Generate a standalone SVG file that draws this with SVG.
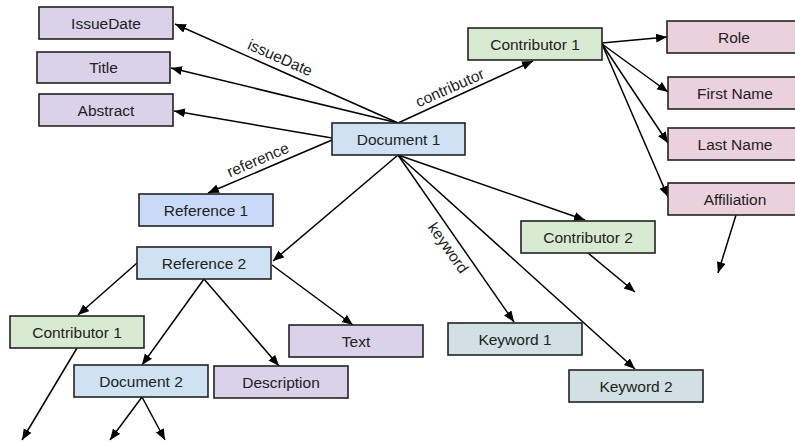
<svg xmlns="http://www.w3.org/2000/svg" width="795" height="442" viewBox="0 0 795 442">
<style>
.n rect{stroke:#222;stroke-width:1.6}
.n text,.lbl{font-family:"Liberation Sans",Arial,sans-serif;font-size:15.5px;fill:#222;text-anchor:middle}
.pu{fill:#d9d2e9}.bl{fill:#cfe2f3}.b2{fill:#c9daf8}.gr{fill:#d9ead3}.pk{fill:#ead1dc}.kw{fill:#d0e0e3}
.e line{stroke:#000;stroke-width:1.5;marker-end:url(#ah)}
</style>
<defs>
<marker id="ah" markerUnits="userSpaceOnUse" markerWidth="12" markerHeight="10" refX="11" refY="4.5" orient="auto">
<path d="M0,0 L11,4.5 L0,9 Z" fill="#000"/>
</marker>
</defs>
<rect width="795" height="442" fill="#fff"/>
<g id="connectors" class="e">
<line x1="398" y1="123" x2="175" y2="24"/>
<line x1="398" y1="123" x2="171" y2="68"/>
<line x1="332" y1="138" x2="174" y2="111"/>
<line x1="332" y1="140" x2="208" y2="193"/>
<line x1="398" y1="123" x2="533" y2="61"/>
<line x1="398" y1="155" x2="273" y2="261"/>
<line x1="398" y1="155" x2="514" y2="322"/>
<line x1="398" y1="155" x2="635" y2="369"/>
<line x1="398" y1="155" x2="585" y2="220"/>
<line x1="602" y1="43" x2="667" y2="37"/>
<line x1="602" y1="44" x2="668" y2="92"/>
<line x1="602" y1="44" x2="668" y2="143"/>
<line x1="602" y1="44" x2="668" y2="197"/>
<line x1="736" y1="215" x2="718" y2="273"/>
<line x1="588" y1="253" x2="635" y2="292"/>
<line x1="137" y1="263" x2="78" y2="315"/>
<line x1="204" y1="279" x2="142" y2="365"/>
<line x1="204" y1="279" x2="279" y2="366"/>
<line x1="272" y1="265" x2="353" y2="325"/>
<line x1="77" y1="348" x2="22" y2="440"/>
<line x1="142" y1="397" x2="110" y2="440"/>
<line x1="142" y1="397" x2="165" y2="440"/>
<text class="lbl" x="280" y="63" transform="rotate(24 280 58)">issueDate</text>
<text class="lbl" x="450" y="93" transform="rotate(-24 450 88)">contributor</text>
<text class="lbl" x="258" y="165" transform="rotate(-23 258 160)">reference</text>
<text class="lbl" x="448" y="253" transform="rotate(55 448 248)">keyword</text>
</g>
<g id="issuedate" class="n"><rect class="pu" x="39" y="7" width="134" height="32"/><text x="106" y="28.5">IssueDate</text></g>
<g id="title" class="n"><rect class="pu" x="37" y="52" width="133" height="31"/><text x="103.5" y="73">Title</text></g>
<g id="abstract" class="n"><rect class="pu" x="39" y="94" width="134" height="32"/><text x="106" y="115.5">Abstract</text></g>
<g id="document1" class="n"><rect class="bl" x="332" y="123" width="133" height="32"/><text x="398.5" y="144.5">Document 1</text></g>
<g id="reference1" class="n"><rect class="b2" x="139" y="194" width="134" height="32"/><text x="206" y="215.5">Reference 1</text></g>
<g id="contributor1" class="n"><rect class="gr" x="468" y="28" width="134" height="32"/><text x="535" y="49.5">Contributor 1</text></g>
<g id="role" class="n"><rect class="pk" x="667" y="21" width="134" height="32"/><text x="734" y="42.5">Role</text></g>
<g id="firstname" class="n"><rect class="pk" x="668" y="77" width="134" height="32"/><text x="735" y="98.5">First Name</text></g>
<g id="lastname" class="n"><rect class="pk" x="668" y="128" width="134" height="32"/><text x="735" y="149.5">Last Name</text></g>
<g id="affiliation" class="n"><rect class="pk" x="668" y="183" width="134" height="32"/><text x="735" y="204.5">Affiliation</text></g>
<g id="reference2" class="n"><rect class="bl" x="137" y="247" width="134" height="32"/><text x="204" y="268.5">Reference 2</text></g>
<g id="contributor2" class="n"><rect class="gr" x="521" y="221" width="134" height="32"/><text x="588" y="242.5">Contributor 2</text></g>
<g id="contributor1b" class="n"><rect class="gr" x="10" y="316" width="134" height="32"/><text x="77" y="337.5">Contributor 1</text></g>
<g id="text" class="n"><rect class="pu" x="289" y="325" width="134" height="32"/><text x="356" y="346.5">Text</text></g>
<g id="keyword1" class="n"><rect class="kw" x="448" y="323" width="134" height="32"/><text x="515" y="344.5">Keyword 1</text></g>
<g id="document2" class="n"><rect class="bl" x="74" y="365" width="134" height="32"/><text x="141" y="386.5">Document 2</text></g>
<g id="description" class="n"><rect class="pu" x="214" y="366" width="134" height="32"/><text x="281" y="387.5">Description</text></g>
<g id="keyword2" class="n"><rect class="kw" x="569" y="370" width="134" height="32"/><text x="636" y="391.5">Keyword 2</text></g>
</svg>
